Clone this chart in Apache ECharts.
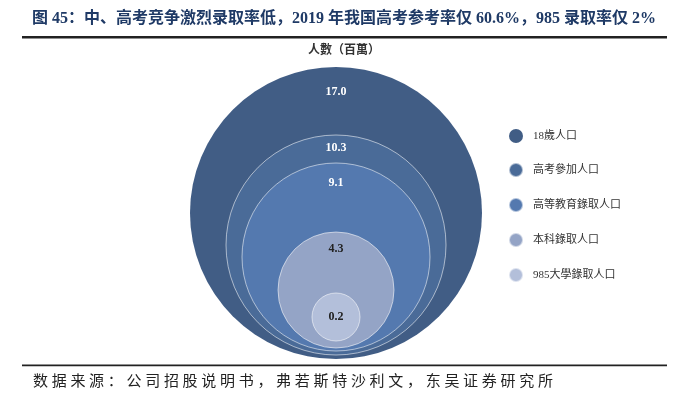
<!DOCTYPE html>
<html>
<head>
<meta charset="utf-8">
<script src="https://cdn.jsdelivr.net/npm/echarts@6/dist/echarts.min.js"></script>
<style>
html,body{margin:0;padding:0;background:#fff}
#wrap{position:relative;width:688px;height:395px}
#c{width:688px;height:395px}
#src{position:absolute;left:33px;top:371px;font-family:'Noto Sans CJK SC',sans-serif;font-size:15px;letter-spacing:3.7px;color:#222;line-height:18px;white-space:nowrap}
</style>
</head>
<body>
<div id="wrap"><div id="c"></div><div id="src"></div></div>
<script>
const titleText = '图 45：中、高考竞争激烈录取率低，2019 年我国高考参考率仅 60.6%，985 录取率仅 2%';
const unitText = '人數（百萬）';
const sourceText = '数据来源：公司招股说明书，弗若斯特沙利文，东吴证券研究所';
const categories = ['18歲人口', '高考參加人口', '高等教育錄取人口', '本科錄取人口', '985大學錄取人口'];
const values = [17.0, 10.3, 9.1, 4.3, 0.2];

// styling (not data)
const colors = ['#415D85', '#4A6B98', '#5479AF', '#94A4C6', '#B3BFDA'];
const diameters = [292, 220, 188, 116, 48];
const bottomLift = [0, 4, 8, 11, 18];
const labelFromTop = [25, 13, 20, 17, null];
const labelColors = ['#fff', '#fff', '#fff', '#222', '#222'];

const serif = "'Liberation Serif', 'Noto Sans CJK SC', serif";

document.getElementById('src').textContent = sourceText;

const chart = echarts.init(document.getElementById('c'), null, {renderer: 'canvas'});

const series = categories.map((name, i) => ({
  type: 'scatter',
  name: name,
  data: [[0, 0, values[i]]],
  symbol: 'circle',
  symbolSize: diameters[i],
  symbolOffset: [0, -(diameters[i] / 2 + bottomLift[i])],
  itemStyle: {
    color: colors[i],
    opacity: 1,
    borderColor: i === 0 ? 'rgba(255,255,255,0)' : 'rgba(255,255,255,0.55)',
    borderWidth: i === 0 ? 0 : 1
  },
  label: {
    show: true,
    formatter: () => values[i].toFixed(1),
    position: labelFromTop[i] === null ? 'inside' : ['50%', labelFromTop[i]],
    align: 'center',
    verticalAlign: 'middle',
    color: labelColors[i],
    fontFamily: serif,
    fontWeight: 'bold',
    fontSize: 12
  },
  emphasis: {disabled: true},
  silent: true,
  z: 2
}));

chart.setOption({
  animation: false,
  backgroundColor: 'transparent',
  grid: {left: 236, right: 252, top: 60, bottom: 36},
  xAxis: {type: 'category', data: ['人數'], show: false},
  yAxis: {type: 'value', min: 0, max: 1, show: false},
  legend: {
    orient: 'vertical',
    left: 503,
    top: 124,
    itemWidth: 14,
    itemHeight: 14,
    itemGap: 19,
    icon: 'circle',
    data: categories,
    textStyle: {fontFamily: serif, fontSize: 11, color: '#333', padding: [0, 0, 0, 5]},
    selectedMode: false
  },
  series: series,
  graphic: [
    {type: 'text', left: 32, top: 11, style: {text: titleText, fontFamily: serif, fontWeight: 'bold', fontSize: 16, fill: '#1F3A66'}},
    {type: 'rect', shape: {x: 22, y: 36, width: 645, height: 2.5}, style: {fill: '#222'}},
    {type: 'text', left: 'center', top: 45, style: {text: unitText, fontFamily: serif, fontWeight: 'bold', fontSize: 12, fill: '#333'}},
    {type: 'rect', shape: {x: 22, y: 364.5, width: 645, height: 1.8}, style: {fill: '#222'}, z: 10}
  ]
});
</script>
</body>
</html>
